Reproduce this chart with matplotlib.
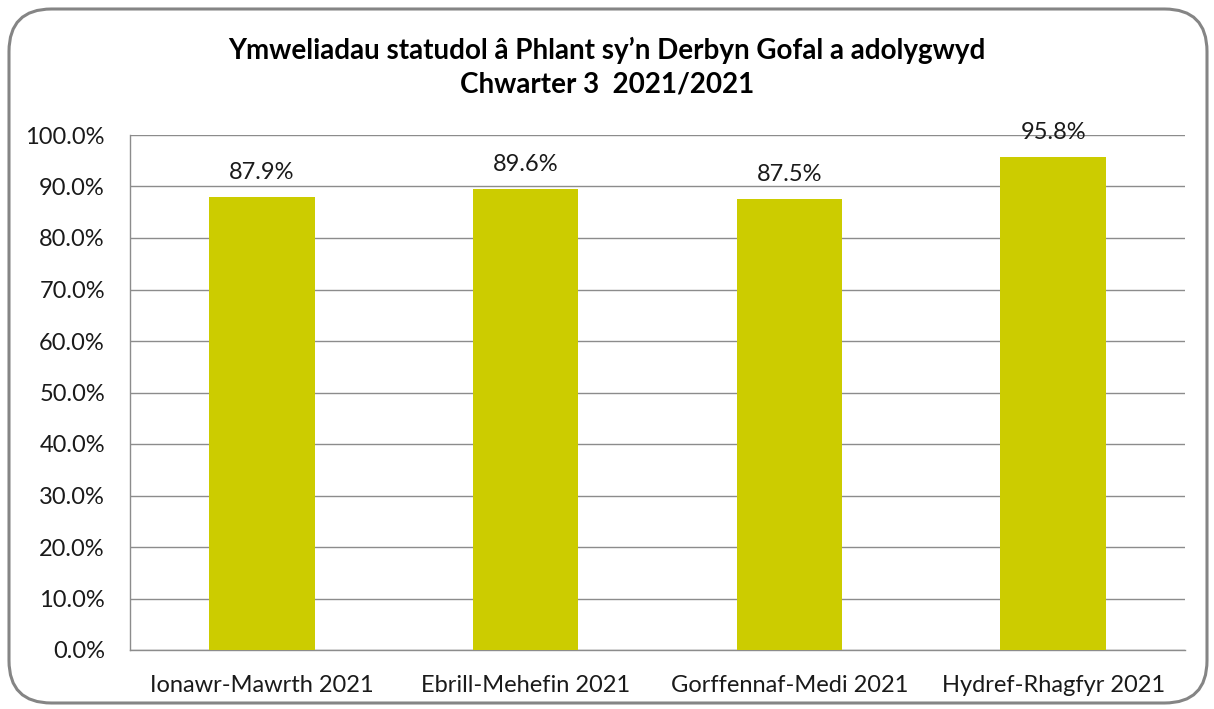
import matplotlib
matplotlib.use("Agg")
import matplotlib.pyplot as plt
from matplotlib.patches import FancyBboxPatch
from matplotlib.ticker import FuncFormatter, MultipleLocator

categories = ["Ionawr-Mawrth 2021", "Ebrill-Mehefin 2021", "Gorffennaf-Medi 2021", "Hydref-Rhagfyr 2021"]
values = [87.9, 89.6, 87.5, 95.8]
title_lines = ["Ymweliadau statudol â Phlant sy’n Derbyn Gofal a adolygwyd", "Chwarter 3  2021/2021"]

plt.rcParams['font.family'] = ['Lato', 'DejaVu Sans']

W, H = 1214, 709
fig = plt.figure(figsize=(W / 100, H / 100), dpi=100)
fig.patch.set_facecolor('white')

# rounded border
border = FancyBboxPatch((9 / W, 6 / H), (1198 / W), (694 / H),
                        boxstyle="round,pad=0,rounding_size=0.035",
                        transform=fig.transFigure, facecolor='none',
                        edgecolor='#858585', linewidth=2.2, mutation_aspect=W / H,
                        zorder=10)
fig.patches.append(border)

left, right, top, bottom = 130, 1185, 135, 650
ax = fig.add_axes([left / W, 1 - bottom / H, (right - left) / W, (bottom - top) / H])
ax.set_facecolor('none')

x = range(len(categories))
ax.bar(x, values, width=0.40, color='#CCCC00', zorder=3)
for xi, v in zip(x, values):
    ax.annotate(f"{v:.1f}%", (xi, v), xytext=(0, 14), textcoords='offset pixels',
                ha='center', va='bottom', fontsize=17, color='#1a1a1a', zorder=4)

ax.set_ylim(0, 100)
ax.set_xlim(-0.5, len(categories) - 0.5)
ax.yaxis.set_major_locator(MultipleLocator(10))
ax.yaxis.set_major_formatter(FuncFormatter(lambda v, p: f"{v:.1f}%"))
ax.grid(axis='y', color='#8c8c8c', linewidth=1.0, zorder=0)
ax.set_xticks(list(x))
ax.set_xticklabels(categories)
ax.tick_params(axis='both', length=0, labelsize=17, colors='#1a1a1a')
ax.tick_params(axis='x', pad=18)
ax.tick_params(axis='y', pad=18)
for s in ['top', 'right']:
    ax.spines[s].set_visible(False)
for s in ['left', 'bottom']:
    ax.spines[s].set_color('#8c8c8c')
    ax.spines[s].set_linewidth(1.0)

fig.text(0.5, 1 - 50 / H, title_lines[0], ha='center', va='center', fontsize=20, fontweight='bold')
fig.text(0.5, 1 - 85 / H, title_lines[1], ha='center', va='center', fontsize=20, fontweight='bold')

fig.savefig("out.png", dpi=100)
